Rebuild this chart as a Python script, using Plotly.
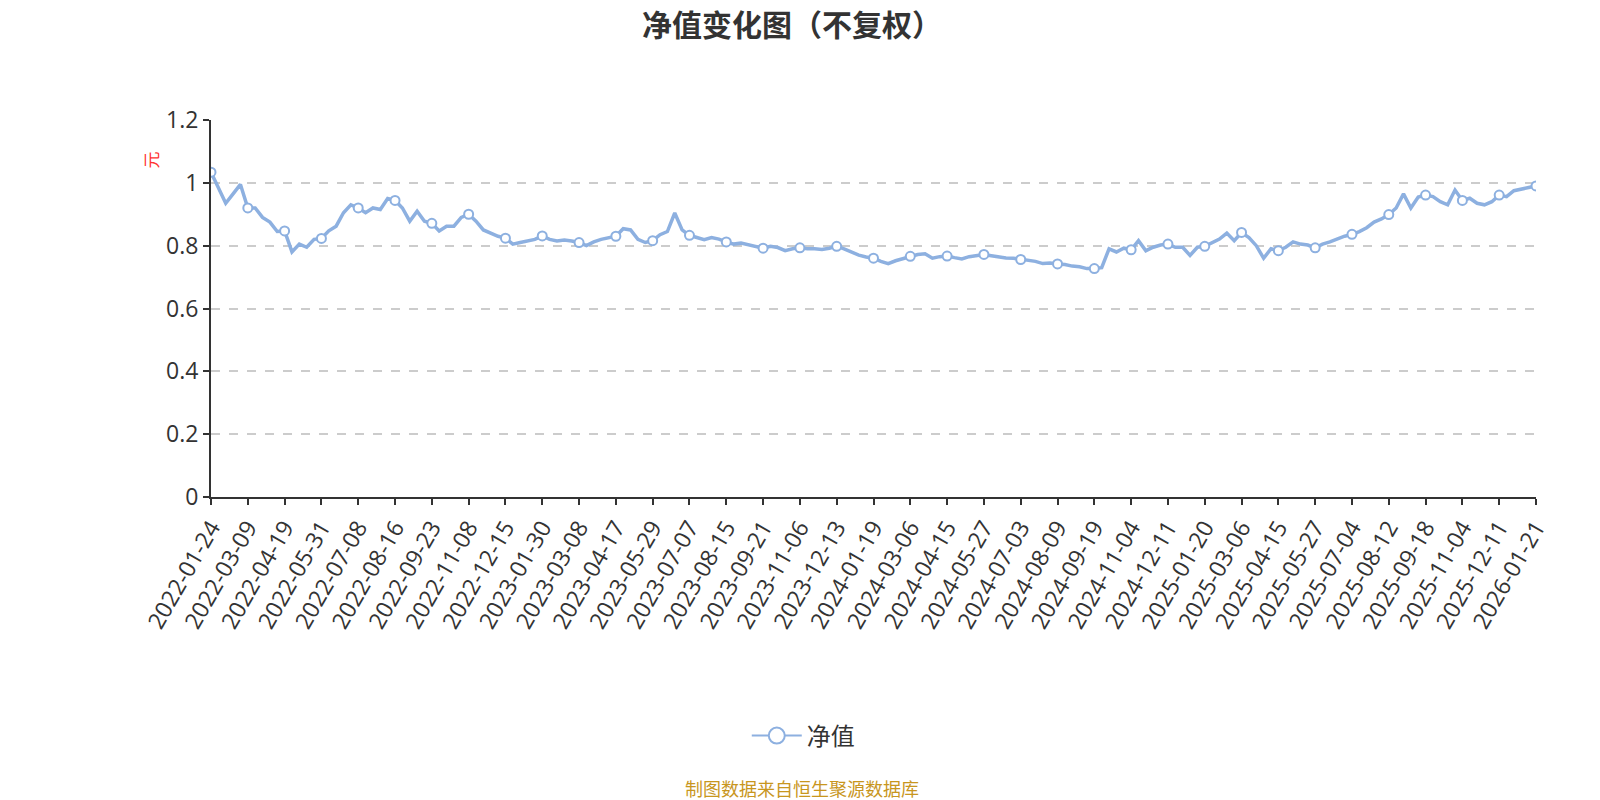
import plotly.graph_objects as go

# 刻度日期（每个标签处有一个圆点）
dates = [
    "2022-01-24", "2022-03-09", "2022-04-19", "2022-05-31", "2022-07-08",
    "2022-08-16", "2022-09-23", "2022-11-08", "2022-12-15", "2023-01-30",
    "2023-03-08", "2023-04-17", "2023-05-29", "2023-07-07", "2023-08-15",
    "2023-09-21", "2023-11-06", "2023-12-13", "2024-01-19", "2024-03-06",
    "2024-04-15", "2024-05-27", "2024-07-03", "2024-08-09", "2024-09-19",
    "2024-11-04", "2024-12-11", "2025-01-20", "2025-03-06", "2025-04-15",
    "2025-05-27", "2025-07-04", "2025-08-12", "2025-09-18", "2025-11-04",
    "2025-12-11", "2026-01-21",
]

# 净值，每个刻度区间约 5 个点
nav = [
    1.034, 0.985, 0.935, 0.965, 0.995,
    0.920, 0.920, 0.890, 0.875, 0.845,
    0.847, 0.780, 0.805, 0.795, 0.820,
    0.823, 0.847, 0.862, 0.905, 0.930,
    0.920, 0.905, 0.920, 0.915, 0.950,
    0.944, 0.920, 0.878, 0.910, 0.878,
    0.871, 0.847, 0.862, 0.862, 0.890,
    0.900, 0.878, 0.850, 0.840, 0.830,
    0.824, 0.805, 0.810, 0.815, 0.820,
    0.831, 0.820, 0.815, 0.818, 0.815,
    0.810, 0.800, 0.812, 0.820, 0.826,
    0.830, 0.854, 0.850, 0.820, 0.810,
    0.816, 0.835, 0.845, 0.904, 0.850,
    0.833, 0.826, 0.819, 0.826, 0.821,
    0.812, 0.805, 0.808, 0.802, 0.798,
    0.792, 0.798, 0.794, 0.784, 0.790,
    0.793, 0.790, 0.790, 0.788, 0.792,
    0.798, 0.790, 0.779, 0.770, 0.764,
    0.760, 0.750, 0.743, 0.752, 0.758,
    0.766, 0.772, 0.774, 0.760, 0.765,
    0.767, 0.762, 0.758, 0.765, 0.769,
    0.772, 0.768, 0.764, 0.761, 0.760,
    0.756, 0.753, 0.750, 0.743, 0.745,
    0.742, 0.740, 0.735, 0.733, 0.727,
    0.727, 0.730, 0.790, 0.780, 0.792,
    0.787, 0.816, 0.784, 0.795, 0.802,
    0.805, 0.795, 0.795, 0.769, 0.795,
    0.798, 0.810, 0.821, 0.840, 0.816,
    0.842, 0.826, 0.800, 0.760, 0.790,
    0.784, 0.795, 0.812, 0.805, 0.802,
    0.793, 0.805, 0.812, 0.822, 0.830,
    0.836, 0.845, 0.857, 0.875, 0.885,
    0.899, 0.920, 0.965, 0.920, 0.955,
    0.961, 0.956, 0.940, 0.930, 0.977,
    0.944, 0.951, 0.935, 0.930, 0.940,
    0.961, 0.956, 0.975, 0.979, 0.985,
    0.990,
]

step = 5
x_idx = list(range(len(nav)))
tick_pos = x_idx[::step]
line_color = "#8db0e0"
font_family = "Open Sans, Noto Sans CJK SC, sans-serif"

fig = go.Figure()
fig.add_trace(go.Scatter(
    x=x_idx, y=nav, mode="lines", name="净值",
    line=dict(color=line_color, width=3.5),
    showlegend=False, hoverinfo="skip",
))
fig.add_trace(go.Scatter(
    x=tick_pos, y=nav[::step], mode="markers", name="净值",
    marker=dict(size=9, color="white", line=dict(color=line_color, width=2)),
    showlegend=False,
))
# 图例项
fig.add_trace(go.Scatter(
    x=[None], y=[None], mode="lines+markers", name="净值",
    line=dict(color=line_color, width=2),
    marker=dict(size=21, color="white", line=dict(color=line_color, width=2)),
))

fig.update_layout(
    autosize=True,
    paper_bgcolor="white", plot_bgcolor="white",
    font=dict(family=font_family, color="#333333"),
    title=dict(text="<b>净值变化图（不复权）</b>", x=0.495, xanchor="center",
               y=0.968, yanchor="middle",
               font=dict(size=30, color="#333333", family="Noto Sans CJK SC")),
    margin=dict(l=211, r=64, t=120, b=303),
    showlegend=True,
    legend=dict(orientation="h", x=0.447, xanchor="center", y=-0.634, yanchor="middle",
                font=dict(size=24, color="#333333", family="Noto Sans CJK SC"),
                itemwidth=50),
    xaxis=dict(
        range=[0, len(nav) - 1],
        tickmode="array", tickvals=tick_pos, ticktext=dates,
        tickangle=-60, tickfont=dict(size=23, color="#333333"),
        showline=True, linecolor="#333333", linewidth=2,
        ticks="outside", ticklen=6, tickcolor="#333333", tickwidth=2,
        showgrid=False, zeroline=False,
    ),
    yaxis=dict(
        range=[0, 1.2], dtick=0.2, tickformat="~g",
        tickfont=dict(size=23, color="#333333"),
        showline=True, linecolor="#333333", linewidth=2,
        ticks="outside", ticklen=6, tickcolor="#333333", tickwidth=2,
        showgrid=True, gridcolor="#cccccc", griddash="dash", gridwidth=1.5,
        zeroline=False,
    ),
    annotations=[
        dict(text="元", xref="paper", yref="paper", x=-0.046, y=0.893,
             xanchor="center", yanchor="middle",
             showarrow=False, textangle=-90,
             font=dict(size=17, color="#ff3333", family="Noto Sans CJK SC")),
        dict(text="制图数据来自恒生聚源数据库", xref="paper", yref="paper",
             x=0.446, y=-0.771, xanchor="center", yanchor="middle", showarrow=False,
             font=dict(size=18, color="#c8961e", family="Noto Sans CJK SC")),
    ],
)

fig.write_html(
    "out.html",
    config={"displayModeBar": False, "responsive": True},
    default_width="100vw", default_height="100vh",
    post_script="document.body.style.margin='0';document.body.style.overflow='hidden';"
                "Plotly.Plots.resize(document.getElementById('{plot_id}'));",
)
